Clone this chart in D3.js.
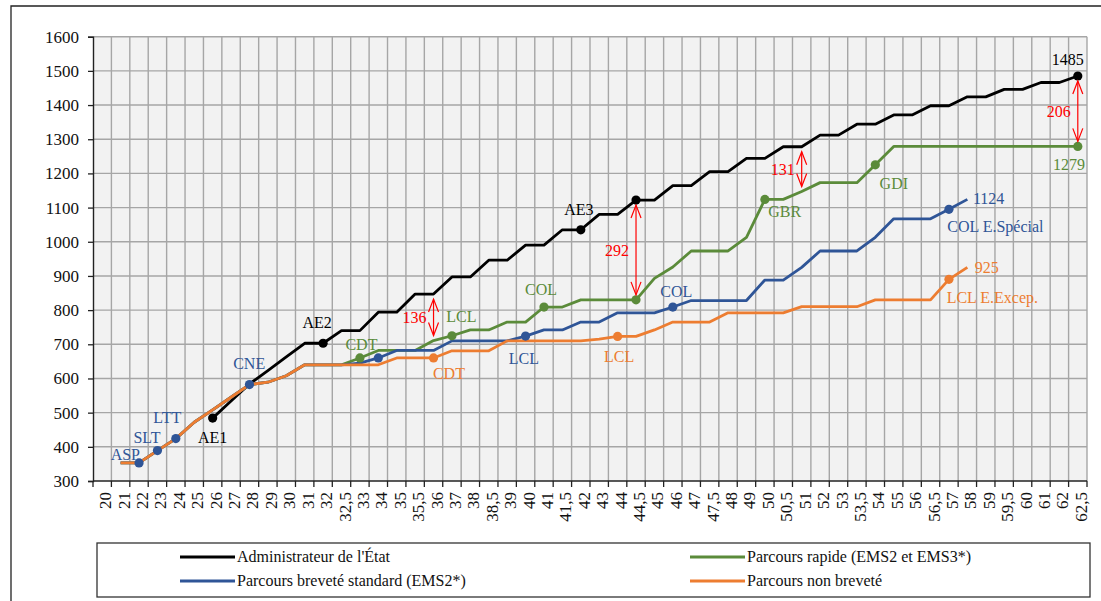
<!DOCTYPE html>
<html>
<head>
<meta charset="utf-8">
<script src="https://cdn.jsdelivr.net/npm/d3@7"></script>
<style>
  body { margin: 0; background: #fff; }
  svg { display: block; }
</style>
</head>
<body>
<svg id="chart" width="1101" height="601"></svg>
<script>
// Ages (x categories)
const ages = ["20","21","22","23","24","25","26","27","28","29","30","31","32","32,5","33","34","35","35,5",
  "36","37","38","38,5","39","40","41","41,5","42","43","44","44,5","45","46","47","47,5","48","49","50",
  "50,5","51","52","53","53,5","54","55","56","56,5","57","58","59","59,5","60","61","62","62,5"];

const yTicks = [300,400,500,600,700,800,900,1000,1100,1200,1300,1400,1500,1600];

const seriesNames = ["Administrateur de l'État", "Parcours rapide (EMS2 et EMS3*)",
  "Parcours breveté standard (EMS2*)", "Parcours non breveté"];

// Indice majoré by age, one value per category (null = no value)
const administrateur = [null,null,null,null,null,null,484,534,584,623,663,703,703,740,740,794,794,847,
  847,897,897,946,946,990,990,1035,1035,1080,1080,1122,1122,1164,1164,1205,1205,1244,1244,
  1278,1278,1312,1312,1344,1344,1371,1371,1398,1398,1424,1424,1446,1446,1466,1466,1485];

const parcoursRapide = [null,353,353,389,424,472,508,545,582,589,608,640,640,640,660,682,682,682,
  711,725,742,742,765,765,809,809,830,830,830,830,893,926,973,973,973,1013,1124,
  1124,1147,1173,1173,1173,1225,1279,1279,1279,1279,1279,1279,1279,1279,1279,1279,1279];

const parcoursBreveteStandard = [null,353,353,389,424,472,508,545,582,589,608,640,640,640,645,660,682,682,
  682,710,710,710,710,724,742,742,765,765,792,792,792,809,828,828,828,828,888,
  888,925,973,973,973,1013,1067,1067,1067,1095,1124,null,null,null,null,null,null];

const parcoursNonBrevete = [null,353,353,389,424,472,508,545,582,589,608,640,640,640,640,640,660,660,
  660,681,681,681,710,710,710,710,710,715,723,723,742,765,765,765,792,792,792,
  792,810,810,810,810,830,830,830,830,890,925,null,null,null,null,null,null];

// Milestones (age, grade) on each path
const adminGrades = [["26","AE1"],["32","AE2"],["42","AE3"],["44,5",""],["62,5","end"]];
const rapideGrades = [["33","CDT"],["37","LCL"],["41","COL"],["44,5",""],["50","GBR"],["54","GDI"],["62,5","end"]];
const breveteGrades = [["22","ASP"],["23","SLT"],["24","LTT"],["28","CNE"],["34",""],["40","LCL"],["46","COL"],["57","COL E.Spécial"],["58","end"]];
const nonBreveteGrades = [["36","CDT"],["44","LCL"],["57","LCL E.Excep."],["58","end"]];

// Gaps between the administrateur path and the fast path
const gapAges = ["36","44,5","51","62,5"];

// ---------------------------------------------------------------------------
const svg = d3.select("#chart");
const W = 1101, H = 601;
const pL = 93, pR = 1087, pT = 36.7, pB = 481;
const serif = "'Liberation Serif', 'Times New Roman', serif";

const x = d3.scaleBand().domain(ages).range([pL, pR]).paddingInner(0).paddingOuter(0);
const cx = a => x(a) + x.bandwidth() / 2;
const y = d3.scaleLinear().domain([300, 1600]).range([pB, pT]);

const series = [
  { name: seriesNames[0], values: administrateur, color: "#000000", grades: adminGrades },
  { name: seriesNames[1], values: parcoursRapide, color: "#5b8b3a", grades: rapideGrades },
  { name: seriesNames[2], values: parcoursBreveteStandard, color: "#2f5597", grades: breveteGrades },
  { name: seriesNames[3], values: parcoursNonBrevete, color: "#ed7d31", grades: nonBreveteGrades }
];

// outer frame
svg.append("path").attr("d", `M11,${H} V6 H${W}`).attr("fill", "none")
  .attr("stroke", "#222").attr("stroke-width", 1.3);

// plot background
svg.append("rect").attr("x", pL).attr("y", pT).attr("width", pR - pL).attr("height", pB - pT)
  .attr("fill", "#f2f2f2");

// grid
const grid = svg.append("g").attr("stroke", "#a6a6a6").attr("stroke-width", 1.4);
grid.selectAll("line.h").data(yTicks.filter(d => d > 300)).join("line")
  .attr("x1", pL).attr("x2", pR).attr("y1", d => y(d)).attr("y2", d => y(d));
const bounds = ages.map(a => x(a)).concat([pR]).slice(1);
grid.selectAll("line.v").data(bounds).join("line")
  .attr("x1", d => d).attr("x2", d => d).attr("y1", pT).attr("y2", pB);

// y axis
const yAxis = svg.append("g").attr("transform", `translate(${pL},0)`)
  .call(d3.axisLeft(y).tickValues(yTicks).tickSize(5).tickPadding(9).tickFormat(d3.format("d")));
yAxis.select(".domain").attr("stroke", "#222").attr("stroke-width", 1.4);
yAxis.selectAll(".tick line").attr("stroke", "#222").attr("stroke-width", 1.3);
yAxis.selectAll("text").attr("font-family", serif).attr("font-size", 17).attr("fill", "#111");

// x axis: labels under each category, ticks on category boundaries
const xAxis = svg.append("g").attr("transform", `translate(0,${pB})`)
  .call(d3.axisBottom(x).tickSize(0).tickPadding(0));
xAxis.select(".domain").remove();
xAxis.selectAll(".tick text")
  .attr("font-family", serif).attr("font-size", 17).attr("fill", "#111")
  .attr("text-anchor", "end")
  .attr("transform", "translate(0,11) rotate(-90)")
  .attr("x", 0).attr("y", 0).attr("dy", "9");
svg.append("line").attr("x1", pL).attr("x2", pR).attr("y1", pB).attr("y2", pB)
  .attr("stroke", "#222").attr("stroke-width", 1.4);
svg.append("g").selectAll("line").data([pL].concat(bounds)).join("line")
  .attr("x1", d => d).attr("x2", d => d).attr("y1", pB).attr("y2", pB + 6)
  .attr("stroke", "#222").attr("stroke-width", 1.3);

// lines
const line = d3.line().defined(d => d.v !== null).x(d => cx(d.a)).y(d => y(d.v));
series.forEach(s => {
  svg.append("path")
    .datum(ages.map((a, i) => ({ a, v: s.values[i] })))
    .attr("fill", "none").attr("stroke", s.color).attr("stroke-width", 2.8)
    .attr("stroke-linejoin", "round").attr("d", line);
});

const valueAt = (s, a) => s.values[ages.indexOf(a)];

// markers (no marker on the end of the two truncated paths)
series.forEach(s => {
  svg.append("g").selectAll("circle")
    .data(s.grades.filter(g => !(g[1] === "end" && (s === series[2] || s === series[3]))))
    .join("circle")
    .attr("cx", g => cx(g[0])).attr("cy", g => y(valueAt(s, g[0]))).attr("r", 4.6)
    .attr("fill", s.color);
});

// label placement: [dx, dy, anchor]
const place = {
  "0|AE1": [0, 25, "middle"], "0|AE2": [-6, -15, "middle"], "0|AE3": [-2, -15, "middle"],
  "0|end": [-10, -11, "middle"],
  "1|CDT": [1.5, -8, "middle"], "1|LCL": [-5.6, -14, "start"], "1|COL": [-3, -12, "middle"],
  "1|GBR": [3.3, 17.5, "start"], "1|GDI": [4.3, 24.3, "start"], "1|end": [-8.7, 23.6, "middle"],
  "2|ASP": [1, -3, "end"], "2|SLT": [3, -8, "end"], "2|LTT": [5.4, -15.4, "end"],
  "2|CNE": [-0.3, -15.7, "middle"], "2|LCL": [-1.7, 28, "middle"], "2|COL": [3.4, -9.7, "middle"],
  "2|COL E.Spécial": [-1.7, 22.5, "start"], "2|end": [5.6, 5, "start"],
  "3|CDT": [-0.6, 20.7, "start"], "3|LCL": [1.5, 25.4, "middle"],
  "3|LCL E.Excep.": [-2.3, 24, "start"], "3|end": [7.3, 6, "start"]
};

series.forEach((s, si) => {
  svg.append("g").selectAll("text")
    .data(s.grades.filter(g => g[1] !== ""))
    .join("text")
    .each(function (g) {
      const p = place[si + "|" + g[1]];
      const v = valueAt(s, g[0]);
      d3.select(this)
        .attr("x", cx(g[0]) + p[0]).attr("y", y(v) + p[1])
        .attr("text-anchor", p[2])
        .text(g[1] === "end" ? d3.format("d")(v) : g[1]);
    })
    .attr("font-family", serif).attr("font-size", 16).attr("fill", s.color);
});

// red double arrows with the gap value
const red = "#ff0000";
const arrows = svg.append("g");
gapAges.forEach(a => {
  const hi = valueAt(series[0], a), lo = valueAt(series[1], a);
  const xa = cx(a), y1 = y(hi) + 5, y2 = y(lo) - 5;
  const g = arrows.append("g").attr("stroke", red).attr("stroke-width", 1.2).attr("fill", "none");
  g.append("line").attr("x1", xa).attr("x2", xa).attr("y1", y1).attr("y2", y2);
  g.append("path").attr("d", `M${xa - 5},${y1 + 13} L${xa},${y1} L${xa + 5},${y1 + 13}`);
  g.append("path").attr("d", `M${xa - 5},${y2 - 13} L${xa},${y2} L${xa + 5},${y2 - 13}`);
  arrows.append("text").attr("x", xa - 7).attr("y", (y(hi) + y(lo)) / 2 + 6)
    .attr("text-anchor", "end").attr("font-family", serif).attr("font-size", 16)
    .attr("fill", red).text(hi - lo);
});

// legend
const legend = svg.append("g");
legend.append("rect").attr("x", 97).attr("y", 543).attr("width", 993).attr("height", 54)
  .attr("fill", "#fff").attr("stroke", "#333").attr("stroke-width", 1.3);
const legendPos = [[180, 557], [690, 557], [180, 581], [690, 581]];
series.forEach((s, i) => {
  const [lx, ly] = legendPos[i];
  legend.append("line").attr("x1", lx).attr("x2", lx + 55).attr("y1", ly).attr("y2", ly)
    .attr("stroke", s.color).attr("stroke-width", 2.8);
  legend.append("text").attr("x", lx + 57).attr("y", ly + 5)
    .attr("font-family", serif).attr("font-size", 16).attr("fill", "#111").text(s.name);
});
</script>
</body>
</html>
